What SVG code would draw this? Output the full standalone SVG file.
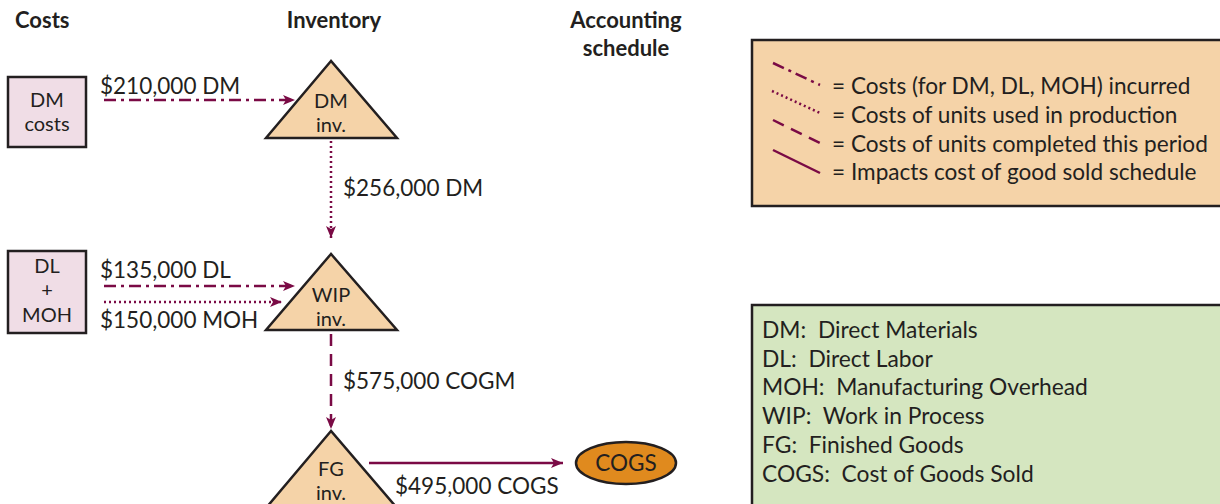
<svg xmlns="http://www.w3.org/2000/svg" width="1220" height="504" viewBox="0 0 1220 504">
<defs>
<marker id="ah" viewBox="0 0 12 10" refX="12" refY="5" markerWidth="12" markerHeight="10" markerUnits="userSpaceOnUse" orient="auto">
<path d="M0,0 L12,5 L0,10 L3,5 Z" fill="#7a0a45"/>
</marker>
<style>
text{font-family:Lato,"Open Sans","Liberation Sans",sans-serif;fill:#231f20;font-size:22.5px}
.h{font-weight:bold;font-size:22px}
.c{text-anchor:middle}
.n{font-size:20px}
.lg{font-size:22.6px}
.ab{font-size:22.8px;white-space:pre}
.box{fill:#f0dde6;stroke:#231f20;stroke-width:2.5}
.tri{fill:#f5d3a8;stroke:#231f20;stroke-width:2.5;stroke-linejoin:miter}
.ln{stroke:#7a0a45;stroke-width:2.5;fill:none}
.dd{stroke-dasharray:12 5 3 5}
.dt{stroke-dasharray:2 3}
.ds{stroke-dasharray:12 8}
</style>
</defs>
<rect width="1220" height="504" fill="#ffffff"/>
<g id="headers">
<text class="h" x="15" y="28">Costs</text>
<text class="h c" x="334" y="28">Inventory</text>
<text class="h c" x="626" y="28">Accounting</text>
<text class="h c" x="626" y="56">schedule</text>
</g>
<g id="dm-costs">
<rect class="box" x="8" y="77" width="78" height="70"/>
<text class="c n" x="47" y="107">DM</text>
<text class="c n" x="47" y="131">costs</text>
</g>
<g id="dl-moh">
<rect class="box" x="8" y="251" width="78" height="82"/>
<text class="c n" x="47" y="273">DL</text>
<text class="c n" x="47" y="297">+</text>
<text class="c n" x="47" y="322">MOH</text>
</g>
<g id="dm-inv">
<polygon class="tri" points="331,61 266,138 397,138"/>
<text class="c n" x="331" y="108">DM</text>
<text class="c n" x="331" y="132">inv.</text>
</g>
<g id="wip-inv">
<polygon class="tri" points="331,254 266,330 397,330"/>
<text class="c n" x="331" y="302">WIP</text>
<text class="c n" x="331" y="326">inv.</text>
</g>
<g id="fg-inv">
<polygon class="tri" points="331,431 266,508 397,508"/>
<text class="c n" x="331" y="476">FG</text>
<text class="c n" x="331" y="500">inv.</text>
</g>
<g id="cogs">
<ellipse cx="626" cy="463" rx="50" ry="21" fill="#e08a1e" stroke="#231f20" stroke-width="2.5"/>
<text class="c" x="626" y="471">COGS</text>
</g>
<g id="connectors">
<line class="ln dd" x1="104" y1="100" x2="295" y2="100" marker-end="url(#ah)"/>
<line class="ln dt" x1="331" y1="141" x2="331" y2="238" marker-end="url(#ah)"/>
<line class="ln dd" x1="104" y1="286" x2="295" y2="286" marker-end="url(#ah)"/>
<line class="ln dt" x1="104" y1="302" x2="282" y2="302" marker-end="url(#ah)"/>
<line class="ln ds" x1="331" y1="334" x2="331" y2="429" marker-end="url(#ah)"/>
<line class="ln" x1="369" y1="463" x2="563" y2="463" marker-end="url(#ah)"/>
</g>
<g id="connector-labels">
<text x="100" y="94">$210,000 DM</text>
<text x="343" y="196">$256,000 DM</text>
<text x="100" y="278">$135,000 DL</text>
<text x="100" y="328">$150,000 MOH</text>
<text x="343" y="389">$575,000 COGM</text>
<text x="395" y="494">$495,000 COGS</text>
</g>
<g id="legend-lines">
<rect x="752" y="40" width="480" height="166" fill="#f5d3a8" stroke="#231f20" stroke-width="2.5"/>
<line class="ln dd" x1="773" y1="63" x2="820" y2="85"/>
<line class="ln dt" x1="772" y1="91" x2="820" y2="113"/>
<line class="ln ds" x1="773" y1="120" x2="820" y2="143"/>
<line class="ln" x1="773" y1="150" x2="820" y2="173"/>
<text class="lg" x="832" y="94">= Costs (for DM, DL, MOH) incurred</text>
<text class="lg" x="832" y="123">= Costs of units used in production</text>
<text class="lg" x="832" y="152">= Costs of units completed this period</text>
<text class="lg" x="832" y="180">= Impacts cost of good sold schedule</text>
</g>
<g id="legend-abbrev">
<rect x="752" y="305" width="480" height="210" fill="#d5e6c0" stroke="#231f20" stroke-width="2.5"/>
<text class="ab" x="762" y="338">DM:  Direct Materials</text>
<text class="ab" x="762" y="367">DL:  Direct Labor</text>
<text class="ab" x="762" y="395">MOH:  Manufacturing Overhead</text>
<text class="ab" x="762" y="424">WIP:  Work in Process</text>
<text class="ab" x="762" y="453">FG:  Finished Goods</text>
<text class="ab" x="762" y="482">COGS:  Cost of Goods Sold</text>
</g>
</svg>
